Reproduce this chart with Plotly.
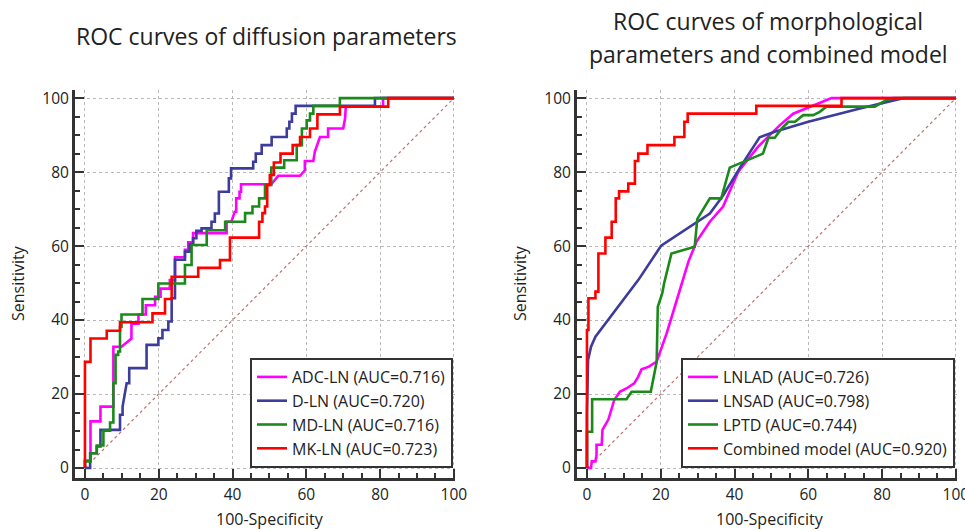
import plotly.graph_objects as go

# ---------------- data: left panel (diffusion parameters) ----------------
adc_x = [0, 0, 1.5, 1.5, 4.2, 4.2, 7.7, 7.7, 9.9, 12.6, 12.6, 14.5, 14.5, 16.5, 16.5, 19, 19, 20.5, 20.5, 23, 23,
         24.4, 24.4, 27.1, 27.1, 28, 28, 29.3, 29.3, 38.4, 38.4, 39.7, 40.6, 41, 41, 41.9, 41.9, 42.3, 42.3, 50.5,
         52.4, 58.3, 59.6, 59.6, 61.9, 62.3, 63.7, 65.9, 65.9, 70, 70.5, 70.7, 80.8, 80.8, 100]
adc_y = [0, 2, 2, 12.6, 12.6, 16.6, 16.6, 32.8, 32.8, 35, 39, 39, 41.5, 41.5, 44, 44, 46.3, 46.3, 48.5, 48.5, 50.8,
         50.8, 57, 57, 59, 59, 61, 61, 63.5, 63.5, 66.6, 66.6, 69.3, 69.3, 72.9, 72.9, 74.7, 74.7, 76.7, 76.7,
         79, 79, 80.5, 83, 83, 85.5, 89.5, 89.5, 91.8, 91.8, 94.5, 97.7, 97.7, 100, 100]

d_x = [0, 1.4, 1.4, 3.2, 3.2, 4.2, 4.2, 9.5, 9.5, 10.2, 10.2, 10.8, 11.3, 12, 12, 16.7, 16.7, 19.9, 19.9, 21, 21,
       22.6, 22.6, 23.5, 23.5, 24.4, 24.4, 27.1, 27.1, 28.4, 28.4, 29.3, 29.3, 30.2, 30.2, 31.6, 31.6, 34.3, 34.3,
       35.2, 35.2, 36.3, 36.3, 39, 39, 39.6, 39.6, 45.6, 45.6, 46.3, 46.3, 47.9, 47.9, 50.6, 50.6, 54.7, 54.7,
       55.4, 55.4, 56.1, 56.1, 57.1, 57.1, 78.6, 78.6, 100]
d_y = [0, 0, 4, 4, 5.8, 5.8, 10.3, 10.3, 14.4, 14.4, 16.6, 20.2, 22.9, 22.9, 27, 27, 33.3, 33.3, 35.1, 35.1, 37.3,
       37.3, 39.6, 39.6, 45.9, 45.9, 56.3, 56.3, 58.5, 58.5, 60.5, 60.5, 62.1, 62.1, 64.1, 64.1, 64.8, 64.8, 66.6,
       66.6, 68.8, 68.8, 74.7, 74.7, 78.3, 78.3, 81, 81, 82.8, 82.8, 85, 85, 87.3, 87.3, 89.5, 89.5, 91.8,
       91.8, 93.6, 93.6, 95.8, 95.8, 97.9, 97.9, 100, 100]

md_x = [0, 0, 1.5, 1.5, 3.2, 3.2, 5, 5, 6.8, 6.8, 7.7, 7.7, 8.3, 8.3, 9, 9, 9.5, 9.5, 9.9, 9.9, 15.6, 15.6, 19.9,
        19.9, 27.1, 27.1, 28.9, 28.9, 33, 33, 38, 38, 43.4, 43.4, 45.4, 45.4, 47.2, 47.2, 48.8, 48.8, 50.5, 50.5,
        54, 54, 57.4, 57.4, 58.8, 58.8, 60.1, 60.1, 61, 61, 61.9, 61.9, 69.1, 69.1, 100]
md_y = [0, 1.8, 1.8, 4, 4, 6.1, 6.1, 10.1, 10.1, 12.3, 12.3, 22.9, 22.9, 30.6, 30.6, 31.5, 31.5, 38.2, 38.2, 41.5,
        41.5, 45.7, 45.7, 49.9, 49.9, 54.9, 54.9, 60.3, 60.3, 64.3, 64.3, 66.6, 66.6, 68.9, 68.9, 70.7, 70.7, 72.9,
        72.9, 76.5, 76.5, 81.2, 81.2, 83.2, 83.2, 87.3, 87.3, 91.8, 91.8, 94, 94, 95.8, 95.8, 97.9, 97.9, 100, 100]

mk_x = [0, 0, 1.5, 1.5, 5.9, 5.9, 9.5, 9.5, 18.3, 18.3, 21.7, 21.7, 23.5, 23.5, 30.7, 30.7, 36.6, 36.6, 39.3, 39.3,
        47.2, 47.2, 48.1, 48.1, 48.8, 48.8, 49.4, 49.4, 50.1, 50.1, 51.2, 51.2, 53, 53, 56.3, 56.3, 58.3, 58.3,
        61, 61, 63, 63, 69.1, 69.1, 82.2, 82.2, 100]
mk_y = [0, 28.7, 28.7, 35, 35, 37.1, 37.1, 39.4, 39.4, 41.8, 41.8, 45.7, 45.7, 51.7, 51.7, 54.1, 54.1, 56.2, 56.2,
        62.3, 62.3, 66.6, 66.6, 68.9, 68.9, 70.7, 70.7, 76.5, 76.5, 79.2, 79.2, 82.6, 82.6, 85, 85, 87.3, 87.3,
        89.5, 89.5, 91.8, 91.8, 95.6, 95.6, 97.7, 97.7, 100, 100]

# ---------------- data: right panel (morphological + combined) ----------------
lnlad_x = [0, 1.1, 1.3, 2.3, 2.6, 2.6, 4.0, 4.2, 5.8, 6.7, 7.4, 8.9, 10.7, 12.8, 13.9, 14.8, 16.8, 18.9, 19.8,
           21.6, 23.8, 26.1, 27.5, 29.7, 33.3, 36.9, 41, 46.4, 49.6, 52.3, 55.9, 60.4, 66.3, 100]
lnlad_y = [0, 0, 1.8, 1.8, 3.6, 6.3, 6.3, 10.3, 13.1, 15.8, 18.4, 20.6, 21.5, 22.9, 24.7, 26.7, 27.4, 28.8, 31.4,
           36.4, 43.6, 50.8, 55.8, 61.2, 66.6, 70.7, 80.1, 86.9, 90, 92.7, 95.8, 97.7, 100, 100]

lnsad_x = [0, 0, 0.3, 1.1, 2.3, 13.9, 20.1, 28.4, 33.3, 36.9, 41.9, 46.8, 50.9, 60, 74, 85.7, 100]
lnsad_y = [0, 15, 29.2, 32.8, 35.5, 50.8, 60.1, 65.7, 68.8, 73.7, 81.9, 89.4, 90.9, 93.6, 97.2, 100, 100]

lptd_x = [0, 0, 1.4, 1.4, 10.7, 12.1, 17.3, 18.9, 19.2, 20.4, 20.9, 22.9, 29.2, 29.9, 33.3, 36.4, 38.7, 41.9,
          47.7, 49.2, 50.9, 52.8, 54.6, 56.4, 58.6, 61.3, 63.1, 64.9, 78, 81.2, 83, 100]
lptd_y = [0, 9.8, 9.8, 18.6, 18.6, 20.6, 20.6, 28.7, 43.6, 47.2, 49.9, 58, 59.8, 67.3, 72.9, 72.9, 81.2, 82.6,
          85, 89.3, 89.3, 91.8, 93.6, 93.6, 95.4, 95.4, 96.3, 97.7, 97.7, 99.5, 100, 100]

comb_x = [0, 0, 0.4, 0.4, 2.3, 2.3, 3.1, 3.1, 5, 5, 6.7, 6.7, 7.8, 7.8, 8.7, 8.7, 11.2, 11.2, 13, 13, 13.9, 13.9,
          16.4, 16.4, 23.7, 23.7, 26.4, 26.4, 27.3, 27.3, 45.9, 45.9, 69, 69, 100]
comb_y = [0, 37.3, 37.3, 45.9, 45.9, 47.7, 47.7, 58, 58, 62.3, 62.3, 66.6, 66.6, 72.9, 72.9, 74.8, 74.8, 76.9,
          76.9, 83, 83, 85, 85, 87.3, 87.3, 89.5, 89.5, 93.6, 93.6, 95.8, 95.8, 97.9, 97.9, 100, 100]

left_names = ["ADC-LN (AUC=0.716)", "D-LN (AUC=0.720)", "MD-LN (AUC=0.716)", "MK-LN (AUC=0.723)"]
right_names = ["LNLAD (AUC=0.726)", "LNSAD (AUC=0.798)", "LPTD (AUC=0.744)", "Combined model (AUC=0.920)"]
tick_vals = [0, 20, 40, 60, 80, 100]
diag = [0, 100]

colors = ["#ff00ff", "#3c3c9c", "#1a8a1a", "#ff0000"]
FONT = "Open Sans, Noto Sans, sans-serif"
W, H = 965, 531

fig = go.Figure()

# diagonals
for xa, ya in [("x", "y"), ("x2", "y2")]:
    fig.add_trace(go.Scatter(x=diag, y=diag, mode="lines", xaxis=xa, yaxis=ya, showlegend=False,
                             line=dict(color="#c07070", width=1.2, dash="dot"), hoverinfo="skip"))

left_data = [(adc_x, adc_y), (d_x, d_y), (md_x, md_y), (mk_x, mk_y)]
for (xs, ys), name, c in zip(left_data, left_names, colors):
    fig.add_trace(go.Scatter(x=xs, y=ys, mode="lines", name=name, xaxis="x", yaxis="y",
                             line=dict(color=c, width=2.6), legend="legend"))

right_data = [(lnlad_x, lnlad_y), (lnsad_x, lnsad_y), (lptd_x, lptd_y), (comb_x, comb_y)]
for (xs, ys), name, c in zip(right_data, right_names, colors):
    fig.add_trace(go.Scatter(x=xs, y=ys, mode="lines", name=name, xaxis="x2", yaxis="y2",
                             line=dict(color=c, width=2.6), legend="legend2"))

axis_common = dict(
    tickvals=tick_vals, ticks="inside", ticklen=9, tickwidth=2, tickcolor="#333",
    showline=True, linewidth=3, linecolor="#333", mirror=False, automargin=False,
    showgrid=True, gridcolor="#b8b8b8", griddash="dot", gridwidth=1, zeroline=False,
    tickfont=dict(family=FONT, size=15.5, color="#222"),
    minor=dict(dtick=5, tick0=0, ticks="inside", ticklen=5, tickwidth=1.5, tickcolor="#333", showgrid=False),
)

leg_common = dict(xanchor="right", yanchor="bottom", bgcolor="white", bordercolor="#333", borderwidth=2,
                  font=dict(family=FONT, size=16, color="#222"), itemwidth=30, tracegroupgap=0)

fig.update_layout(
    template="none",
    width=W, height=H, autosize=False,
    margin=dict(l=0, r=0, t=0, b=0, autoexpand=False),
    paper_bgcolor="white", plot_bgcolor="white",
    font=dict(family=FONT, color="#222"),
    xaxis=dict(domain=[75 / W, 455 / W], range=[-2.7, 100.3], anchor="y", **axis_common),
    yaxis=dict(domain=[53 / H, 441 / H], range=[-2.7, 102.2], anchor="x", **axis_common),
    xaxis2=dict(domain=[577 / W, 957 / W], range=[-2.7, 100.3], anchor="y2", ticklabeloverflow="allow",
                **axis_common),
    yaxis2=dict(domain=[53 / H, 441 / H], range=[-2.7, 102.2], anchor="x2", **axis_common),
    legend=dict(x=453 / W, y=(H - 468) / H, entrywidth=172, **leg_common),
    legend2=dict(x=955 / W, y=(H - 468) / H, entrywidth=241, **leg_common),
)

ann_font = dict(family=FONT, size=23, color="#222")
lab_font = dict(family=FONT, size=16, color="#222")
annotations = [
    dict(text="ROC curves of diffusion parameters", x=266 / W, y=1 - 36 / H, font=ann_font),
    dict(text="ROC curves of morphological", x=768 / W, y=1 - 21 / H, font=ann_font),
    dict(text="parameters and combined model", x=768 / W, y=1 - 54 / H, font=ann_font),
    dict(text="Sensitivity", x=18 / W, y=1 - 283 / H, font=lab_font, textangle=-90),
    dict(text="Sensitivity", x=520 / W, y=1 - 283 / H, font=lab_font, textangle=-90),
    dict(text="100-Specificity", x=270 / W, y=1 - 519 / H, font=lab_font),
    dict(text="100-Specificity", x=770 / W, y=1 - 519 / H, font=lab_font),
]
for a in annotations:
    fig.add_annotation(xref="paper", yref="paper", showarrow=False, xanchor="center", yanchor="middle", **a)

post = ("document.documentElement.style.margin='0px';document.documentElement.style.overflow='hidden';"
        "document.body.style.margin='0px';document.body.style.overflow='hidden';")
fig.write_html("out.html", config={"responsive": False, "displayModeBar": False}, post_script=post)
